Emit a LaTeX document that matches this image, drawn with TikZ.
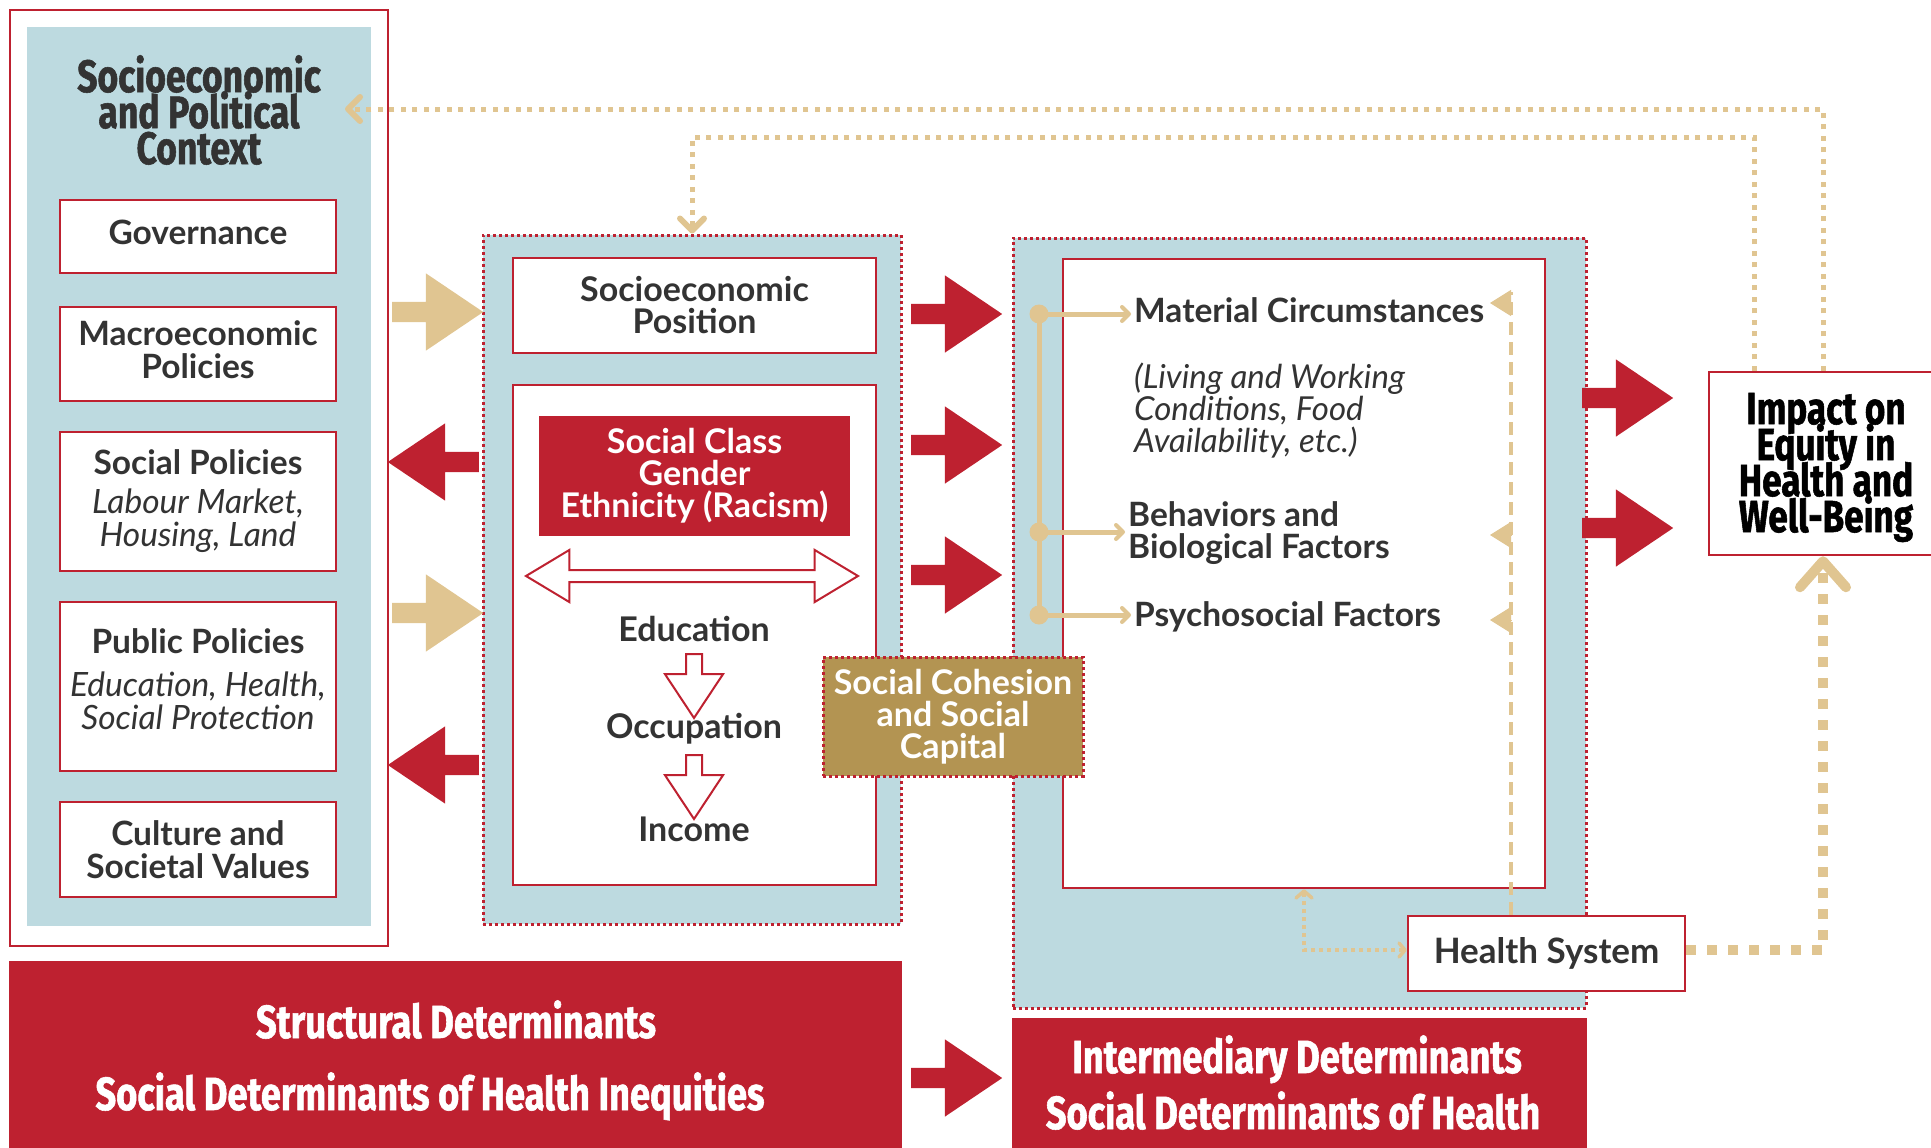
\documentclass[tikz,border=0pt]{standalone}
\usepackage{fontspec}
\setmainfont{Lato}
\newfontfamily\titlefont[FakeStretch=0.78,FakeBold=1.2]{Fira Sans}
\usetikzlibrary{positioning,shapes.arrows,arrows.meta}
\definecolor{sdred}{HTML}{BE2130}
\definecolor{sdblue}{HTML}{BDDAE0}
\definecolor{sdtan}{HTML}{E0C591}
\definecolor{sdgold}{HTML}{B39452}
\definecolor{sddark}{HTML}{333333}
\newcommand{\boxnote}[1]{{\mdseries\itshape #1}}
\tikzset{
  frame/.style={draw=sdred, line width=2pt, fill=white,
    minimum width=378pt, minimum height=936pt},
  panel/.style={fill=sdblue, minimum width=#1},
  dot frame/.style={fill=sdblue, draw=sdred, line width=3pt,
    dash pattern=on 3pt off 3pt},
  red box/.style={draw=sdred, line width=2.5pt, fill=white, text=sddark,
    minimum width=276pt, minimum height=#1, align=center, inner sep=0pt,
    font=\fontsize{33.5}{33}\selectfont\bfseries},
  title text/.style={text=sddark, align=center, inner sep=0pt,
    font=\titlefont\bfseries\fontsize{45.5}{36}\selectfont,
    execute at begin node={\lineskiplimit=-40pt}},
  body text/.style={text=sddark, align=center, inner sep=0pt,
    font=\fontsize{34}{33}\selectfont\bfseries},
  item text/.style={text=sddark, align=left, inner sep=0pt,
    font=\fontsize{33.5}{32}\selectfont\bfseries},
  banner/.style={fill=sdred, text=white, inner sep=0pt},
  banner text/.style={text=white, inner sep=0pt,
    font=\titlefont\bfseries\fontsize{46.5}{46}\selectfont},
  cohesion/.style={fill=sdgold, draw=sdred, line width=3pt,
    dash pattern=on 3pt off 3pt, text=white, align=center, inner sep=0pt,
    minimum width=260pt, minimum height=119pt,
    font=\fontsize{34}{32}\selectfont\bfseries},
  big arrow/.style={single arrow, fill=#1, draw=none, inner sep=0pt,
    text height=20pt, text depth=0pt,
    minimum height=91pt, single arrow head extend=28.5pt,
    single arrow tip angle=68},
  hollow arrow/.style={single arrow, draw=sdred, line width=2pt, fill=white,
    inner sep=0pt, text height=14pt, text depth=0pt,
    minimum height=64pt, single arrow head extend=21pt,
    single arrow tip angle=67, rotate=270},
  twin arrow/.style={double arrow, draw=sdred, line width=2pt, fill=white,
    inner sep=0pt, text height=10pt, text depth=0pt,
    minimum height=332pt, double arrow head extend=20pt,
    double arrow tip angle=62},
  feedback/.style={draw=sdtan, line width=5pt, dash pattern=on 5pt off 6.5pt,
    -{Straight Barb[round, length=12pt, width=24pt, line width=6pt]}},
  tan link/.style={draw=sdtan, line width=5pt, shorten >=3pt,
    -{Straight Barb[round, length=7pt, width=14pt, line width=4pt]}},
  dashed link/.style={draw=sdtan, line width=3.5pt, dash pattern=on 13pt off 7pt},
  marker/.style={draw=sdtan, line width=1pt,
    -{Triangle[length=21pt, width=26pt]}},
  hs link/.style={draw=sdtan, line width=4pt, dash pattern=on 4pt off 4pt,
    {Straight Barb[round, length=6pt, width=14pt, line width=3.5pt]}-{Straight Barb[round, length=7pt, width=16pt, line width=3.5pt]}},
  health link/.style={draw=sdtan, line width=10pt, dash pattern=on 10pt off 11pt,
    -{Straight Barb[round, length=26pt, width=46pt, line width=10pt]}},
}

\begin{document}
\begin{tikzpicture}[x=1pt, y=-1pt, node distance=28.5pt]
  \useasboundingbox (0,0) rectangle (1931,1148);

  % socioeconomic and political context
  \node [frame] (ctx frame) at (199,478) {};
  \node [panel=344pt, minimum height=899pt] (ctx panel) at (199,476.5) {};
  \node [title text] (ctx title) at (199,110) {Socioeconomic\\and Political\\Context};
  \node [red box=73pt, text depth=8pt] (gov) at (198,236.5) {Governance};
  \node [red box=94pt, text depth=8pt, below=31.5pt of gov] (macro) {Macroeconomic\\Policies};
  \node [red box=139pt, below=of macro] (social) {Social Policies\\[6pt]\boxnote{Labour Market,}\\\boxnote{Housing, Land}};
  \node [red box=169pt, text depth=15pt, below=of social] (public) {Public Policies\\[10pt]\boxnote{Education, Health,}\\\boxnote{Social Protection}};
  \node [red box=95pt, below=of public] (culture) {Culture and\\Societal Values};

  % socioeconomic position
  \node [dot frame, minimum width=418pt, minimum height=689pt] (sep frame) at (692,579.5) {};
  \node [red box=95pt, minimum width=363pt, font=\fontsize{34}{32}\selectfont\bfseries] (sep) at (694.5,305.5) {Socioeconomic\\Position};
  \node [red box=500pt, minimum width=363pt] (strat) at (694.5,635) {};
  \node [banner, align=center, minimum width=311pt, minimum height=120pt,
    font=\fontsize{34}{32}\selectfont\bfseries] (class) at (694.5,476) {Social Class\\Gender\\Ethnicity (Racism)};
  \node [twin arrow] (class link) at (692,576) {};
  \node [body text, anchor=base] (edu) at (694,641) {Education};
  \node [hollow arrow, anchor=tail] (edu arrow) at (694,653) {};
  \node [body text, anchor=base] (occ) at (694,738) {Occupation};
  \node [hollow arrow, anchor=tail] (occ arrow) at (694,754) {};
  \node [body text, anchor=base] (inc) at (694,841) {Income};

  % intermediary determinants
  \node [dot frame, minimum width=573pt, minimum height=770pt] (int frame) at (1299.5,623) {};
  \node [red box=629pt, minimum width=482pt] (int box) at (1304,573.5) {};
  \node [item text, anchor=base west] (mat) at (1134,322) {Material Circumstances};
  \node [item text, anchor=west, font=\fontsize{33}{32}\selectfont\mdseries\itshape] (mat note) at (1134,411) {(Living and Working\\Conditions, Food\\Availability, etc.)};
  \node [item text, anchor=west] (beh) at (1128,533) {Behaviors and\\Biological Factors};
  \node [item text, anchor=base west] (psy) at (1134,626) {Psychosocial Factors};
  \node [cohesion] (coh) at (953,716.5) {Social Cohesion\\and Social\\Capital};
  \node [red box=75pt, minimum width=277pt, font=\fontsize{35}{33}\selectfont\bfseries] (hs) at (1546.5,953.5) {Health System};
  \node [red box=183pt, minimum width=234pt, title text, text=black, text depth=2pt,
    font=\titlefont\bfseries\fontsize{45}{36}\selectfont] (impact) at (1826,463.5) {Impact on\\Equity in\\Health and\\Well-Being};

  % banners
  \node [banner, minimum width=893pt, minimum height=190pt] (struct) at (455.5,1056) {};
  \node [banner text, anchor=base] (struct a) at (456,1038) {Structural Determinants};
  \node [banner text, anchor=base] (struct b) at (430,1110) {Social Determinants of Health Inequities};
  \node [banner, minimum width=575pt, minimum height=132pt] (inter) at (1299.5,1084) {};
  \node [banner text, anchor=base] (inter a) at (1297,1073) {Intermediary Determinants};
  \node [banner text, anchor=base] (inter b) at (1293,1129) {Social Determinants of Health};

  % block arrows
  \node [big arrow=sdtan, anchor=tail] (in a) at (392,312) {};
  \node [big arrow=sdtan, anchor=tail] (in b) at (392,613) {};
  \node [big arrow=sdred, anchor=tail, rotate=180] (out a) at (479,462) {};
  \node [big arrow=sdred, anchor=tail, rotate=180] (out b) at (479,765) {};
  \node [big arrow=sdred, anchor=tail] (mid a) at (911,314) {};
  \node [big arrow=sdred, anchor=tail] (mid b) at (911,445) {};
  \node [big arrow=sdred, anchor=tail] (mid c) at (911,575) {};
  \node [big arrow=sdred, anchor=tail] (base arrow) at (911,1078) {};
  \node [big arrow=sdred, anchor=tail] (imp a) at (1582,398) {};
  \node [big arrow=sdred, anchor=tail] (imp b) at (1582,528) {};

  % links to the intermediary factors
  \coordinate (mat dot) at (1039,314);
  \coordinate (beh dot) at (1039,532);
  \coordinate (psy dot) at (1039,615);
  \draw [draw=sdtan, line width=5pt] (mat dot) -- (psy dot);
  \fill [sdtan] (mat dot) circle [radius=9.5pt] (beh dot) circle [radius=9.5pt] (psy dot) circle [radius=9.5pt];
  \draw [tan link] (mat dot) -- (mat dot -| mat.west);
  \draw [tan link] (beh dot) -- (beh dot -| beh.west);
  \draw [tan link] (psy dot) -- (psy dot -| psy.west);

  % health system
  \coordinate (hs top) at (1511,292);
  \coordinate (mat mark) at (1511,303);
  \coordinate (mat tip) at (1490,303);
  \coordinate (beh mark) at (1511,535);
  \coordinate (beh tip) at (1490,535);
  \coordinate (psy mark) at (1511,620);
  \coordinate (psy tip) at (1490,620);
  \draw [dashed link] (hs.north -| hs top) -- (hs top);
  \draw [marker] (mat mark) -- (mat tip);
  \draw [marker] (beh mark) -- (beh tip);
  \draw [marker] (psy mark) -- (psy tip);
  \coordinate (hs turn) at (1304,950);
  \draw [hs link] (hs.west |- hs turn) -- (hs turn) -- (hs turn |- int box.south);
  \coordinate (hs corner) at (1823,950);
  \draw [health link] (hs.east |- hs corner) -- (hs corner) -- (impact.south -| hs corner);

  % feedback from the impact
  \coordinate (fb outer) at (1823,109);
  \coordinate (ctx in) at (345,109);
  \coordinate (fb inner) at (1754,137);
  \draw [feedback] (impact.north -| fb outer) -- (fb outer) -- (ctx in);
  \draw [feedback] (impact.north -| fb inner) -- (fb inner) -- (fb inner -| sep frame.north) -- (sep frame.north);
\end{tikzpicture}
\end{document}
